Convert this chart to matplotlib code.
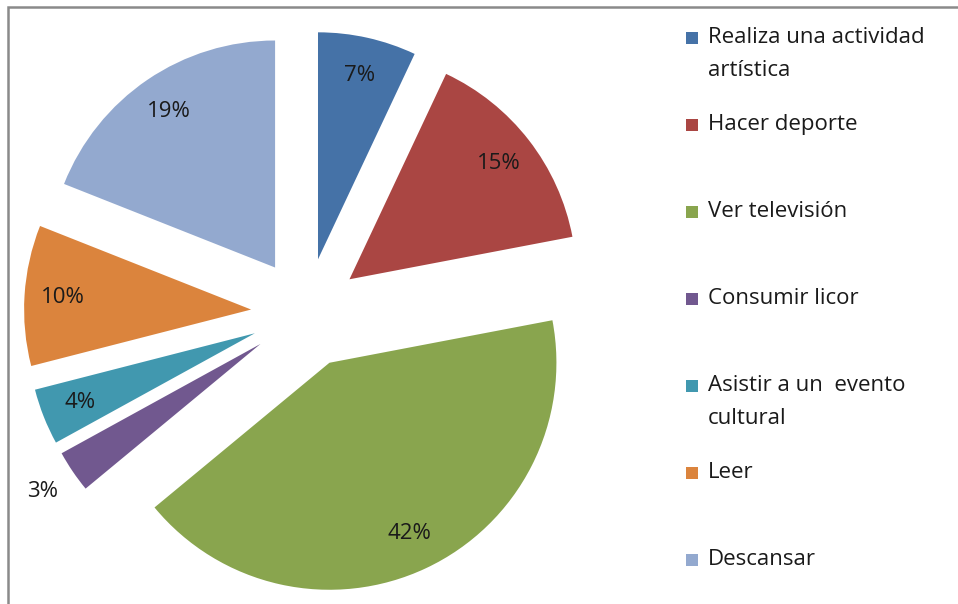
import matplotlib.pyplot as plt
import numpy as np
from matplotlib.patches import Rectangle

labels = [
    "Realiza una actividad\nartística",
    "Hacer deporte",
    "Ver televisión",
    "Consumir licor",
    "Asistir a un  evento\ncultural",
    "Leer",
    "Descansar",
]
values = [7, 15, 42, 3, 4, 10, 19]
colors = ["#4572A7", "#AA4643", "#89A54E", "#71588F", "#4198AF", "#DB843D", "#93A9CF"]

W, H = 958, 604
plt.rcParams["font.family"] = ["Open Sans", "DejaVu Sans"]

fig = plt.figure(figsize=(W / 100, H / 100), dpi=100)
ax = fig.add_axes([0, 0, 1, 1])

# outer frame (cut off on the right and bottom in the source)
ax.add_patch(Rectangle((8, -20), W + 40, H - 7 + 20, fill=False,
                       edgecolor="#8a8a8a", linewidth=1.8))

radius = 227
wedges, texts, autotexts = ax.pie(
    values,
    colors=colors,
    explode=[55] * len(values),  # data units here, the axes are in pixels
    startangle=90,
    counterclock=False,
    center=(306, H - 313),
    radius=radius,
    autopct="%d%%",
    pctdistance=0.83,
    textprops={"fontsize": 16, "color": "#1a1a1a"},
    frame=True,
)
ax.set_xlim(0, W)
ax.set_ylim(0, H)
ax.set_aspect("equal")
ax.axis("off")

# small slice label goes outside
small = values.index(3)
w = wedges[small]
ang = np.deg2rad((w.theta1 + w.theta2) / 2)
cx, cy = w.center
autotexts[small].set_position((cx + 1.16 * radius * np.cos(ang),
                               cy + 1.16 * radius * np.sin(ang)))

# legend, evenly spaced first lines like the original
y0, step = H - 38, 87
for i, (lab, col) in enumerate(zip(labels, colors)):
    y = y0 - i * step
    ax.add_patch(Rectangle((686, y - 6), 12, 12, facecolor=col, edgecolor="none"))
    ax.text(708, y + 11, lab, fontsize=16, color="#1a1a1a", va="top",
            ha="left", linespacing=1.72)

fig.savefig("out.png", dpi=100)
